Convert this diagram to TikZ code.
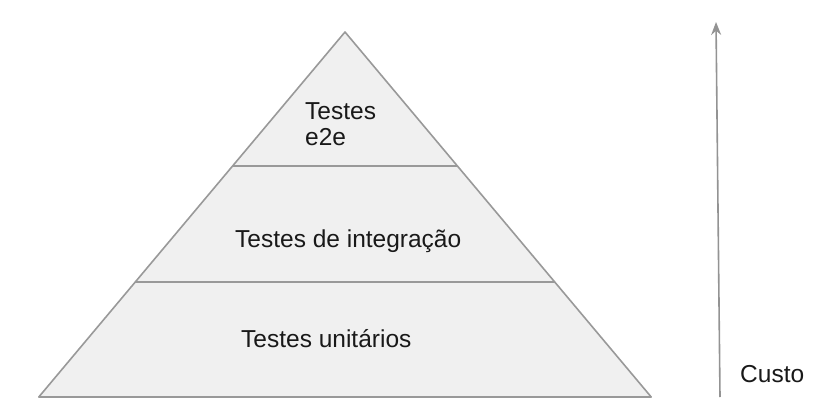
\documentclass[tikz,border=0pt]{standalone}
\usepackage{fontspec}
\setmainfont{Liberation Sans}
\usepackage{tikz}
\usetikzlibrary{arrows.meta,calc,positioning}

\begin{document}
\begin{tikzpicture}[x=1pt, y=-1pt,
    layer/.style={draw=gray!80, line width=1.6pt, fill=black!6},
    label/.style={inner sep=0pt, text=black!90, font=\fontsize{24.5}{26.5}\selectfont},
    arrow/.style={-{Stealth[length=13pt, width=10pt]}, draw=gray!85, line width=1.6pt}]

    \useasboundingbox (0,0) rectangle (818,406);

    % pyramid
    \coordinate (apex) at (345,32);
    \coordinate (bl) at (38.8,397);
    \coordinate (br) at (651.2,397);
    \coordinate (l1) at ($(apex)!0.367!(bl)$);
    \coordinate (r1) at ($(apex)!0.367!(br)$);
    \coordinate (l2) at ($(apex)!0.685!(bl)$);
    \coordinate (r2) at ($(apex)!0.685!(br)$);

    \draw[layer, line join=round] (apex) -- (br) -- (bl) -- cycle;
    \draw[layer] (l1) -- (r1);
    \draw[layer] (l2) -- (r2);

    \node[label, align=left, anchor=base west] (e2e) at (305,146) {Testes\\e2e};
    \node[label, anchor=base west] (integ) at (235,247) {Testes de integração};
    \node[label, anchor=base west] (unit) at (241,347) {Testes unitários};

    % cost axis
    \coordinate (low) at (720,397);
    \coordinate (high) at (716,22);
    \draw[arrow] (low) -- (high);
    \node[label, anchor=base west] (cost) at (740,382) {Custo};
\end{tikzpicture}
\end{document}
